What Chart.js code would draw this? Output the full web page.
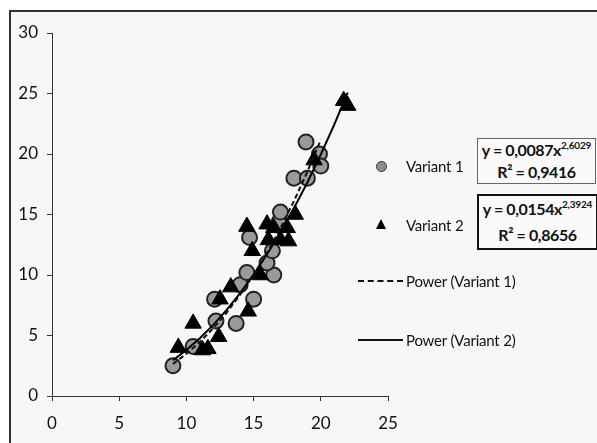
<!DOCTYPE html>
<html>
<head>
<meta charset="utf-8">
<script src="https://cdn.jsdelivr.net/npm/chart.js@4.4.1/dist/chart.umd.min.js"></script>
<style>
  html, body { margin:0; padding:0; background:#ffffff; width:597px; height:443px; overflow:hidden; }
  #frame { position:absolute; left:9px; top:10px; width:700px; height:600px; border:2px solid #333; background:#f7f7f7; }
  #c { position:absolute; left:0; top:0; }
  .lg { position:absolute; font-family:Lato, "Noto Sans", sans-serif; font-size:15px; color:#111; line-height:18px; white-space:nowrap; letter-spacing:-0.2px; }
  .dot { position:absolute; width:9px; height:9px; border-radius:50%; background:#8e8e8e; border:1px solid #333; }
  .tri { position:absolute; width:0; height:0; border-left:5px solid transparent; border-right:5px solid transparent; border-bottom:10px solid #000; }
  .dash { position:absolute; width:45px; height:0; border-top:2px dashed #111; }
  .solid { position:absolute; width:45px; height:0; border-top:2px solid #111; }
  .box { position:absolute; background:#fafafa; font-family:Lato, "Noto Sans", sans-serif; font-weight:bold; font-size:16px; color:#111; text-align:center; line-height:26px; white-space:nowrap; letter-spacing:-0.4px; }
  .box sup { font-size:10px; line-height:0; vertical-align:7px; letter-spacing:-0.2px; }
</style>
</head>
<body>
<div id="frame"></div>
<canvas id="c" width="597" height="443"></canvas>

<div class="dot" style="left:376px; top:161px;"></div>
<div class="lg" style="left:406px; top:157px;">Variant 1</div>
<div class="tri" style="left:376px; top:219px;"></div>
<div class="lg" style="left:406px; top:216px;">Variant 2</div>
<div class="dash" style="left:358px; top:280px;"></div>
<div class="lg" style="left:406px; top:272px;">Power (Variant 1)</div>
<div class="solid" style="left:358px; top:339px;"></div>
<div class="lg" style="left:406px; top:331px;">Power (Variant 2)</div>

<div class="box" style="left:477px; top:138px; width:117px; height:44px; border:1.5px solid #666; line-height:22px;">y = 0,0087x<sup>2,6029</sup><br>R² = 0,9416</div>
<div class="box" style="left:477px; top:194px; width:117px; height:52px; border:2px solid #111;">y = 0,0154x<sup>2,3924</sup><br>R² = 0,8656</div>

<script>
// Variant 1 (circles)
const v1X = [9.0, 10.5, 12.1, 12.2, 13.7, 14.0, 14.5, 15.0, 14.7, 16.5, 16.0, 16.4, 16.9, 17.0, 18.0, 19.0, 18.9, 19.9, 20.0];
const v1Y = [2.5, 4.1, 8.0, 6.2, 6.0, 9.2, 10.2, 8.0, 13.1, 10.0, 11.0, 12.0, 14.4, 15.2, 18.0, 18.0, 21.0, 20.0, 19.0];
// Variant 2 (triangles)
const v2X = [9.4, 10.5, 11.2, 11.6, 12.4, 12.5, 13.3, 14.6, 14.5, 14.9, 15.5, 16.0, 16.1, 16.5, 17.0, 17.5, 17.6, 18.1, 19.5, 21.7, 22.0];
const v2Y = [4.0, 6.0, 3.8, 3.9, 4.9, 8.0, 9.0, 7.0, 14.0, 12.0, 10.0, 14.2, 12.9, 13.9, 12.9, 13.9, 12.8, 15.0, 19.5, 24.4, 24.0];
// Power trendline (Variant 1)
const t1X = [9, 10, 11, 12, 13, 14, 15, 16, 17, 18, 19, 20];
const t1Y = [2.65, 3.49, 4.47, 5.60, 6.90, 8.37, 10.02, 11.85, 13.88, 16.10, 18.54, 21.18];
// Power trendline (Variant 2)
const t2X = [9, 10, 11, 12, 13, 14, 15, 16, 17, 18, 19, 20, 21, 22];
const t2Y = [2.95, 3.80, 4.77, 5.88, 7.12, 8.51, 10.03, 11.71, 13.53, 15.51, 17.65, 19.96, 22.43, 25.07];
// Axis ticks
const xTicks = [0, 5, 10, 15, 20, 25];
const yTicks = [0, 5, 10, 15, 20, 25, 30];

const pts = (xs, ys) => xs.map((x, i) => ({x: x, y: ys[i]}));
const tickFont = {family: 'Lato, "Noto Sans", sans-serif', size: 17};

new Chart(document.getElementById('c').getContext('2d'), {
  type: 'scatter',
  data: {
    datasets: [
      {label: 'Power (Variant 1)', type: 'line', data: pts(t1X, t1Y), borderColor: '#111', borderWidth: 2,
       borderDash: [5, 3], pointRadius: 0, fill: false, tension: 0, order: 0},
      {label: 'Power (Variant 2)', type: 'line', data: pts(t2X, t2Y), borderColor: '#000', borderWidth: 2,
       pointRadius: 0, fill: false, tension: 0, order: 0},
      {label: 'Variant 2', data: pts(v2X, v2Y), pointStyle: 'triangle', pointRadius: 9.5,
       backgroundColor: '#000', borderColor: '#000', borderWidth: 1, order: 1},
      {label: 'Variant 1', data: pts(v1X, v1Y), pointStyle: 'circle', pointRadius: 7.5,
       backgroundColor: '#9a9a9a', borderColor: '#222', borderWidth: 2, order: 2}
    ]
  },
  options: {
    responsive: false, animation: false, events: [],
    layout: {padding: {top: 33, right: 209, left: 0, bottom: 0}},
    plugins: {legend: {display: false}, tooltip: {enabled: false}},
    scales: {
      x: {
        type: 'linear', min: 0, max: 25,
        afterBuildTicks: s => { s.ticks = xTicks.map(v => ({value: v})); },
        afterFit: s => { s.height = 47; },
        ticks: {font: tickFont, color: '#111', padding: 12, maxRotation: 0},
        grid: {drawOnChartArea: false, tickLength: 5, color: '#333'},
        border: {color: '#333', width: 1}
      },
      y: {
        type: 'linear', min: 0, max: 30,
        afterBuildTicks: s => { s.ticks = yTicks.map(v => ({value: v})); },
        afterFit: s => { s.width = 52; },
        ticks: {font: tickFont, color: '#111', padding: 9},
        grid: {drawOnChartArea: false, tickLength: 5, color: '#333'},
        border: {color: '#333', width: 1}
      }
    }
  }
});
</script>
</body>
</html>
